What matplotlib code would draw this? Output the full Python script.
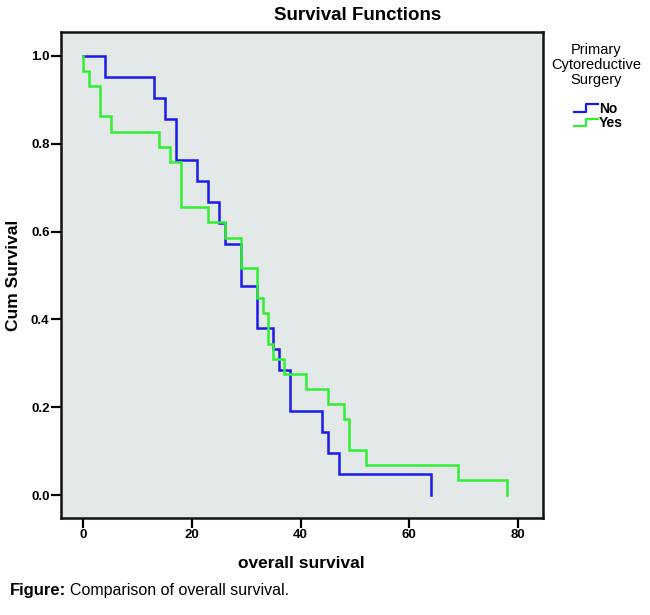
import matplotlib
matplotlib.use("Agg")
import matplotlib.pyplot as plt
import numpy as np
from matplotlib.legend_handler import HandlerBase
from matplotlib.lines import Line2D
from matplotlib import font_manager

# ---- data (Kaplan-Meier event times and deaths) ----
no_n = 21
no_times = [4, 13, 15, 17, 21, 23, 25, 26, 29, 32, 35, 36, 38, 44, 45, 47, 64]
no_deaths = [1, 1, 1, 2, 1, 1, 1, 1, 2, 2, 1, 1, 2, 1, 1, 1, 1]

yes_n = 29
yes_times = [0, 1, 3, 5, 14, 16, 18, 23, 26, 29, 32, 33, 34, 35, 37, 41, 45, 48, 49, 52, 69, 78]
yes_deaths = [1, 1, 2, 1, 1, 1, 3, 1, 1, 2, 2, 1, 2, 1, 1, 1, 1, 1, 2, 1, 1, 1]

group_labels = ["No", "Yes"]
legend_title = "Primary\nCytoreductive\nSurgery"
x_ticks = [0, 20, 40, 60, 80]
y_ticks = [0.0, 0.2, 0.4, 0.6, 0.8, 1.0]

BLUE = "#1a1aee"
GREEN = "#33ee33"
BG = "#e3e8e8"

names = {f.name for f in font_manager.fontManager.ttflist}
narrow = "Liberation Sans Narrow" if "Liberation Sans Narrow" in names else "Liberation Sans"
plt.rcParams["font.family"] = ["Liberation Sans", "DejaVu Sans"]


def km_curve(n, times, deaths):
    at_risk = n - np.concatenate([[0], np.cumsum(deaths)[:-1]])
    s = np.cumprod(1 - np.array(deaths) / at_risk)
    xs = np.concatenate([[0], times])
    ys = np.concatenate([[1.0], s])
    return xs, ys


W, H = 650, 615
fig = plt.figure(figsize=(6.5, 6.15), dpi=100)
ax = fig.add_axes([60.7 / W, 1 - 518.3 / H, (542.7 - 60.7) / W, (518.3 - 31.7) / H])
ax.set_facecolor(BG)

for (n, t, d), col, lab in zip([(no_n, no_times, no_deaths), (yes_n, yes_times, yes_deaths)],
                               [BLUE, GREEN], group_labels):
    xs, ys = km_curve(n, t, d)
    ax.step(xs, ys, where="post", color=col, lw=1.8, label=lab, solid_joinstyle="miter")

ax.set_xlim(-4.2, 84.6)
ax.set_ylim(-0.053, 1.055)
ax.set_xticks(x_ticks)
ax.set_yticks(y_ticks)
ax.set_xticklabels([str(v) for v in x_ticks], fontsize=9.5, fontweight="bold")
ax.set_yticklabels([f"{v:.1f}" for v in y_ticks], fontsize=9.5, fontweight="bold")
ax.tick_params(direction="out", length=7, width=1.6, color="black", pad=1)
for sp in ax.spines.values():
    sp.set_linewidth(1.8)
    sp.set_color("#111111")

fig.text(301 / W, 1 - 563 / H, "overall survival", ha="center", va="center",
         fontsize=12.5, fontweight="bold")
fig.text(14 / W, 1 - 275 / H, "Cum Survival", ha="center", va="center", rotation=90,
         fontsize=12.5, fontweight="bold")

fig.text(357.5 / W, 1 - 15 / H, "Survival Functions", ha="center", va="center",
         fontsize=13.5, fontweight="bold")

# legend title
fig.text(596 / W, 1 - 65 / H, legend_title, ha="center", va="center", fontsize=10.5,
         multialignment="center", linespacing=1.05)


class StepHandler(HandlerBase):
    def create_artists(self, legend, orig_handle, xdescent, ydescent, width, height, fontsize, trans):
        x = [0, width * 0.5, width * 0.5, width]
        y = [height * 0.1, height * 0.1, height * 0.85, height * 0.85]
        ln = Line2D(x, y, color=orig_handle.get_color(), lw=1.6, transform=trans)
        return [ln]


handles = ax.get_lines()
leg = fig.legend(handles, group_labels,
                 handler_map={Line2D: StepHandler()}, loc="upper left",
                 bbox_to_anchor=(564 / W, 1 - 92 / H), frameon=False,
                 fontsize=10, handlelength=1.75, handletextpad=0.05,
                 labelspacing=0.05, borderpad=0.2)
for t in leg.get_texts():
    t.set_fontweight("bold")

t1 = fig.text(10 / W, 1 - 590 / H, "Figure:", ha="left", va="center", fontsize=12,
              fontweight="bold", family=[narrow, "DejaVu Sans"])
fig.canvas.draw()
bb = t1.get_window_extent(fig.canvas.get_renderer())
fig.text((bb.x1 + 4) / W, 1 - 590 / H, "Comparison of overall survival.", ha="left", va="center",
         fontsize=11.5, family=[narrow, "DejaVu Sans"])

fig.savefig("out.png", dpi=100, facecolor="white")
